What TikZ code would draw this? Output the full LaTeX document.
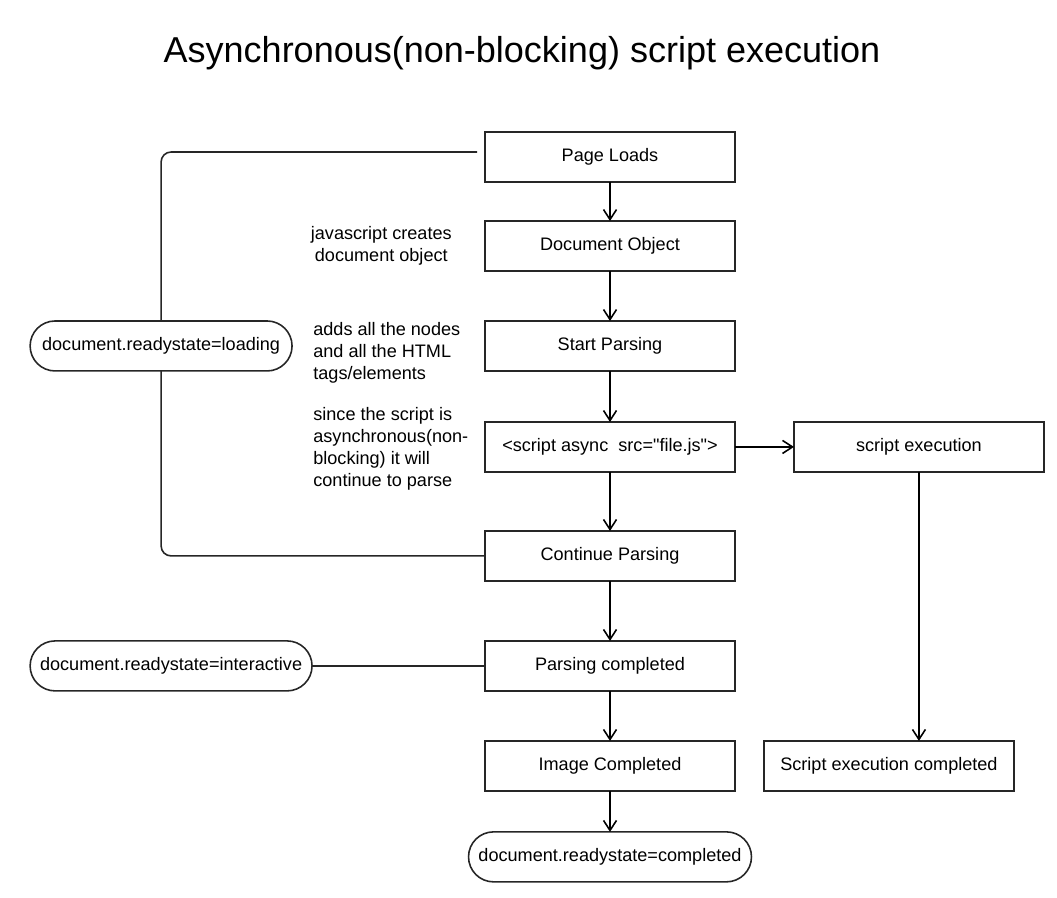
\documentclass[tikz,border=0pt]{standalone}
\usepackage{fontspec}
\setmainfont{Liberation Sans}[Ligatures=TeXOff]
\usepackage{tikz}
\usetikzlibrary{arrows.meta,positioning}
\tikzset{
  box/.style={draw=black!85, line width=0.9pt, outer sep=0pt, align=center, minimum height=1cm,
              minimum width=5cm, font=\fontsize{10.3}{12.5}\selectfont},
  pill/.style={draw=black!85, line width=0.9pt, outer sep=0pt, rounded corners=0.5cm, align=center,
               minimum height=1cm, font=\fontsize{10.3}{12.5}\selectfont},
  note/.style={align=left, inner sep=0pt, font=\fontsize{10.3}{12.5}\selectfont},
  flow/.style={-{Straight Barb[length=2mm,width=2.6mm]}, line width=0.9pt, draw=black},
  link/.style={line width=0.9pt, draw=black!85},
}

\begin{document}
\begin{tikzpicture}[x=0.02cm, y=-0.02cm]
  \useasboundingbox (0,0) rectangle (1057,898);
  \node[font=\fontsize{20.5}{24}\selectfont] (title) at (522,53) {Asynchronous(non-blocking) script execution};
  % main flow
  \node[box] (pl) at (610,157) {Page Loads};
  \node[box, below=0.78cm of pl] (doc) {Document Object};
  \node[box, below=1.0cm of doc] (start) {Start Parsing};
  \node[box, below=1.02cm of start] (sa) {<script async\ \ src="file.js">};
  \node[box, below=1.18cm of sa] (cp) {Continue Parsing};
  \node[box, below=1.2cm of cp] (pc) {Parsing completed};
  \node[box, below=1.0cm of pc] (ic) {Image Completed};
  \node[pill, minimum width=5.66cm, below=0.82cm of ic] (done) {document.readystate=completed};
  \draw[flow] (pl) -- (doc);
  \draw[flow] (doc) -- (start);
  \draw[flow] (start) -- (sa);
  \draw[flow] (sa) -- (cp);
  \draw[flow] (cp) -- (pc);
  \draw[flow] (pc) -- (ic);
  \draw[flow] (ic) -- (done);
  % async branch
  \node[box, right=1.18cm of sa] (se) {script execution};
  \node[box, xshift=-0.6cm] (sec) at (se |- ic) {Script execution completed};
  \draw[flow] (sa) -- (se);
  \draw[flow] (se) -- (se |- sec.north);
  % ready states
  \node[pill, minimum width=5.24cm, left=3.86cm of start] (load) {document.readystate=loading};
  \node[pill, minimum width=5.64cm, left=3.46cm of pc] (inter) {document.readystate=interactive};
  \coordinate (tl) at ([xshift=-0.16cm, yshift=0.1cm]pl.west);
  \draw[link, rounded corners=0.2cm] (tl) -| (load.north);
  \draw[link, rounded corners=0.2cm] (load.south) |- (cp.west);
  \draw[link] (inter) -- (pc);
  % notes
  \node[note, align=center, left=0.66cm of doc] (n1) {javascript creates\\document object};
  \node[note, anchor=west] (n2) at (313,353) {adds all the nodes\\and all the HTML\\tags/elements};
  \node[note, anchor=west] (n3) at (313,449) {since the script is\\asynchronous(non-\\blocking) it will\\continue to parse};
\end{tikzpicture}
\end{document}
